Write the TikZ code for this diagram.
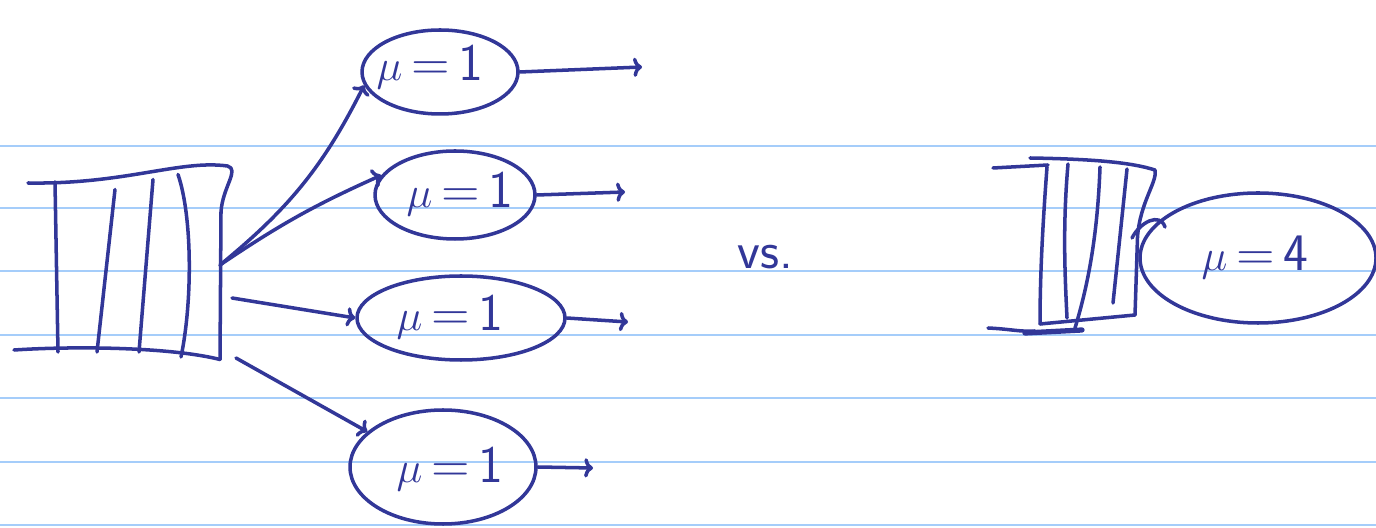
\documentclass[tikz,border=0pt]{standalone}
\usepackage{tikz}
\usetikzlibrary{arrows,arrows.meta,calc,shapes.geometric}
\definecolor{ink}{RGB}{50,55,152}
\definecolor{rule}{RGB}{165,205,250}

\begin{document}
\begin{tikzpicture}[ink/.style = {draw=ink, line width=2pt, line cap=round, line join=round},
  server/.style = {ink, ellipse, inner sep=0pt},
  lbl/.style = {text=ink, font=\sffamily\fontsize{30}{34}\selectfont},
  tip/.style = {-{To[length=5pt,width=11pt]}}]
  \useasboundingbox (0,0) rectangle (27.52,10.54);
  % ruled paper
  \foreach \y in {7.62,6.38,5.12,3.84,2.58,1.30,0.04}
    \draw[rule, line width=0.9pt] (0,\y) -- (27.52,\y);
  % left queue
  \draw[ink] (0.56,6.88) .. controls (2.5,6.85) and (3.6,7.35) .. (4.55,7.22)
    .. controls (4.8,7.15) and (4.45,6.8) .. (4.42,6.3) -- (4.4,3.35);
  \draw[ink] (0.28,3.54) .. controls (1.5,3.62) and (3.4,3.6) .. (4.4,3.35);
  \draw[ink] (1.1,6.9) -- (1.16,3.5);
  \draw[ink] (2.3,6.75) -- (1.94,3.5);
  \draw[ink] (3.06,6.95) -- (2.78,3.5);
  \draw[ink] (3.56,7.05) .. controls (3.85,6.2) and (3.85,4.5) .. (3.62,3.4);
  \coordinate (q1) at (4.4,5.24);
  \coordinate (q2) at (4.64,4.58);
  \coordinate (q3) at (4.72,3.38);
  % servers
  \node[server, minimum width=3.12cm, minimum height=1.68cm] (s1) at (8.8,9.1) {};
  \node[server, minimum width=3.2cm, minimum height=1.76cm] (s2) at (9.1,6.64) {};
  \node[server, minimum width=4.16cm, minimum height=1.68cm] (s3) at (9.22,4.18) {};
  \node[server, minimum width=3.72cm, minimum height=2.28cm] (s4) at (8.86,1.2) {};
  \node[lbl] (m1) at (8.6,9.2) {$\mu$\,=\,1};
  \node[lbl] (m2) at (9.2,6.66) {$\mu$\,=\,1};
  \node[lbl] (m3) at (9.0,4.2) {$\mu$\,=\,1};
  \node[lbl] (m4) at (9.0,1.16) {$\mu$\,=\,1};
  % outputs
  \coordinate (o1) at (12.84,9.2);
  \coordinate (o2) at (12.5,6.7);
  \coordinate (o3) at (12.56,4.1);
  \coordinate (o4) at (11.86,1.18);
  \draw[ink, tip] (s1.east) -- (o1);
  \draw[ink, tip] (s2.east) -- (o2);
  \draw[ink, tip] (s3.east) -- (o3);
  \draw[ink, tip] (s4.east) -- (o4);
  % inputs
  \draw[ink, tip] (q1) to[bend right=12] (s1.190);
  \draw[ink, tip] (q1) to[bend left=5] (s2.165);
  \draw[ink, tip] (q2) -- (s3.west);
  \draw[ink, tip] (q3) -- (s4.155);
  \node[lbl] (vs) at (15.3,5.4) {vs.};
  % right queue
  \draw[ink] (19.86,7.18) -- (20.96,7.24);
  \draw[ink] (20.6,7.38) .. controls (21.8,7.36) and (22.6,7.3) .. (23.1,7.14)
    .. controls (23.15,6.9) and (22.8,6.5) .. (22.75,5.8) -- (22.7,4.24);
  \draw[ink] (20.8,4.06) -- (22.7,4.24);
  \draw[ink] (19.76,3.98) .. controls (20.2,3.96) and (20.4,3.9) .. (20.7,3.92);
  \draw[ink, line width=3pt] (20.5,3.88) -- (21.64,3.94);
  \draw[ink] (20.94,7.2) .. controls (20.85,6) and (20.8,5) .. (20.8,4.06);
  \draw[ink] (21.36,7.26) .. controls (21.25,6) and (21.3,5) .. (21.34,4.18);
  \draw[ink] (22.0,7.2) .. controls (21.95,5.8) and (21.75,4.8) .. (21.5,3.98);
  \draw[ink] (22.54,7.16) -- (22.26,4.48);
  \draw[ink] (22.64,5.78) .. controls (22.8,6.1) and (23.2,6.3) .. (23.3,6.0);
  \node[server, minimum width=4.72cm, minimum height=2.6cm] (s5) at (25.16,5.38) {};
  \node[lbl] (m5) at (25.1,5.4) {$\mu$\,=\,4};
\end{tikzpicture}
\end{document}
